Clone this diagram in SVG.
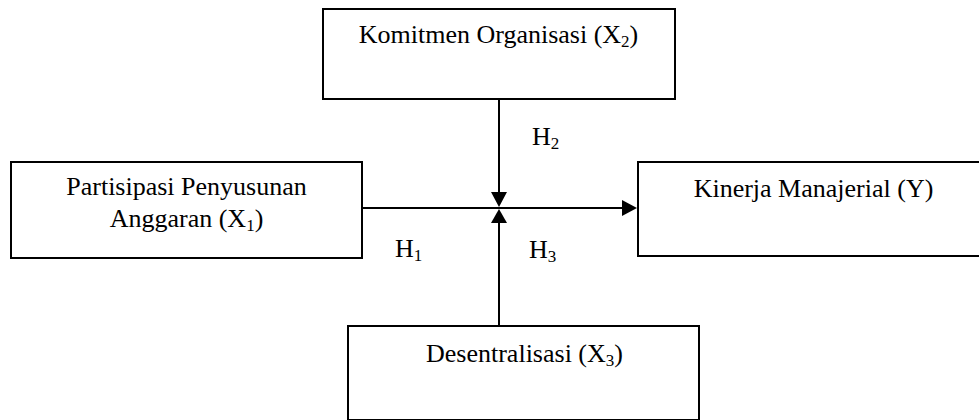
<svg xmlns="http://www.w3.org/2000/svg" width="979" height="420" viewBox="0 0 979 420">
<style>
.box{fill:#fff;stroke:#000;stroke-width:2}
.t{font-family:"Liberation Serif","Times New Roman",serif;font-size:26px;fill:#000}
.m{text-anchor:middle}
.ln{stroke:#000;stroke-width:2;fill:none}
.ah{fill:#000}
</style>
<rect width="979" height="420" fill="#fff"/>
<g id="node-x2">
<rect class="box" x="323" y="9" width="352" height="90"/>
<text class="t m" x="498.5" y="43">Komitmen Organisasi (X<tspan font-size="17" dy="4">2</tspan><tspan dy="-4">)</tspan></text>
</g>
<g id="node-x1">
<rect class="box" x="11" y="162" width="351" height="96"/>
<text class="t m" x="186.5" y="195">Partisipasi Penyusunan</text>
<text class="t m" x="186.5" y="227">Anggaran (X<tspan font-size="17" dy="4">1</tspan><tspan dy="-4">)</tspan></text>
</g>
<g id="node-y">
<rect class="box" x="638" y="162" width="350" height="94"/>
<text class="t m" x="813.5" y="197">Kinerja Manajerial (Y)</text>
</g>
<g id="node-x3">
<rect class="box" x="348" y="326" width="351" height="94"/>
<text class="t m" x="524.5" y="362">Desentralisasi (X<tspan font-size="17" dy="4">3</tspan><tspan dy="-4">)</tspan></text>
</g>
<g id="connectors">
<line class="ln" x1="499" y1="99" x2="499" y2="193"/>
<polygon class="ah" points="491,192 507,192 499,207"/>
<line class="ln" x1="499" y1="326" x2="499" y2="222"/>
<polygon class="ah" points="491,223 507,223 499,209"/>
<line class="ln" x1="362" y1="208" x2="623" y2="208"/>
<polygon class="ah" points="622,200 622,216 637,208"/>
<text class="t" x="532" y="145">H<tspan font-size="17" dy="4">2</tspan></text>
<text class="t" x="395" y="257">H<tspan font-size="17" dy="4">1</tspan></text>
<text class="t" x="529" y="258">H<tspan font-size="17" dy="4">3</tspan></text>
</g>
</svg>
